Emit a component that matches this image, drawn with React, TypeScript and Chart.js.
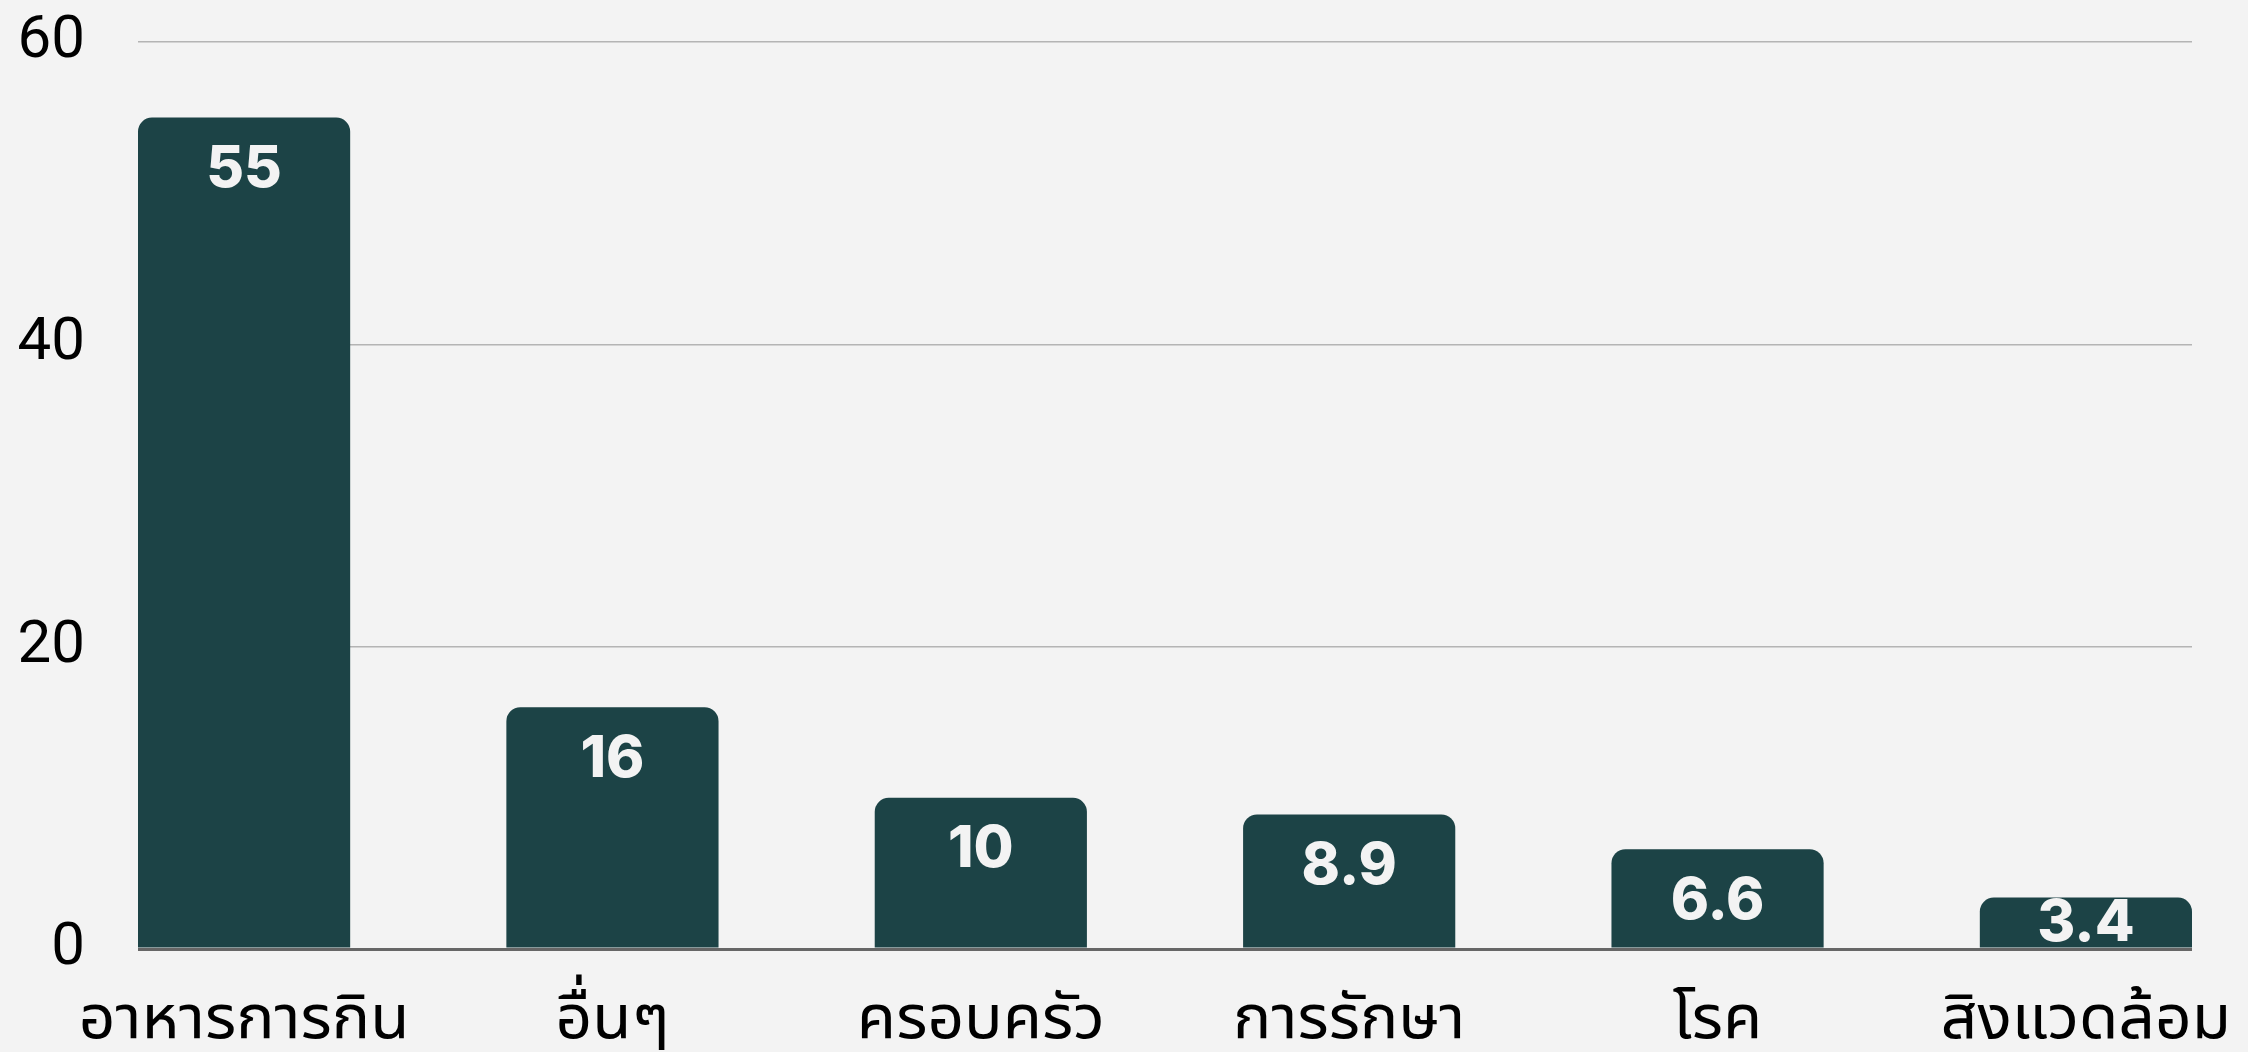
import React, { useEffect, useRef } from "react";
import { Chart, registerables } from "chart.js";

Chart.register(...registerables);

const categories: string[] = ["อาหารการกิน", "อื่นๆ", "ครอบครัว", "การรักษา", "โรค", "สิงแวดล้อม"];
const values: number[] = [55, 16, 10, 8.9, 6.6, 3.4];
const yTicks: number[] = [0, 20, 40, 60];

const BAR_COLOR = "#1c4346";
const BG = "#f3f3f3";
const THAI_FONT = "'Noto Sans Thai UI', 'Noto Sans Thai', 'Sarabun', 'Kanit', 'Prompt', 'Waree', Roboto, sans-serif";

const valueLabels = {
  id: "valueLabels",
  afterDatasetsDraw(chart: any) {
    const ctx = chart.ctx;
    const meta = chart.getDatasetMeta(0);
    ctx.save();
    ctx.fillStyle = "#f3f3f3";
    ctx.font = "800 58px Inter, Roboto, sans-serif";
    ctx.textAlign = "center";
    ctx.textBaseline = "middle";
    meta.data.forEach((bar: any, i: number) => {
      const top = Math.min(bar.y, bar.base);
      const base = Math.max(bar.y, bar.base);
      const cy = Math.min(top + 52, base - 24);
      ctx.fillText(String(values[i]), bar.x, cy);
    });
    ctx.restore();
  },
};

export default function App() {
  const ref = useRef<HTMLCanvasElement | null>(null);
  useEffect(() => {
    document.body.style.margin = "0";
    const canvas = ref.current!;
    const chart = new Chart(canvas, {
      type: "bar",
      data: {
        datasets: [
          {
            data: values.map((v, i) => ({ x: i, y: v })),
            backgroundColor: BAR_COLOR,
            borderRadius: { topLeft: 14, topRight: 14, bottomLeft: 0, bottomRight: 0 },
            borderSkipped: false,
            categoryPercentage: 1,
            barPercentage: 0.576,
          } as any,
        ],
      },
      options: {
        responsive: false,
        animation: false,
        devicePixelRatio: 1,
        layout: { padding: { top: 42, right: 56, left: 0, bottom: 0 } },
        plugins: { legend: { display: false }, tooltip: { enabled: false } },
        scales: {
          x: {
            type: "linear",
            offset: false,
            min: -0.288,
            max: 5.288,
            grid: { display: false, drawTicks: false },
            border: { display: false },
            afterFit: (s: any) => {
              s.height = 103;
              s.paddingLeft = 0;
              s.paddingRight = 0;
            },
            afterBuildTicks: (s: any) => {
              s.ticks = categories.map((_, i) => ({ value: i }));
            },
            ticks: {
              autoSkip: false,
              maxRotation: 0,
              minRotation: 0,
              padding: 32,
              color: "#000",
              font: { family: THAI_FONT, size: 64 },
              callback: (v: any) => categories[Math.round(Number(v))] ?? "",
            },
          },
          y: {
            min: 0,
            max: 60,
            afterFit: (s: any) => {
              s.width = 138;
              s.paddingTop = 0;
              s.paddingBottom = 0;
            },
            afterBuildTicks: (s: any) => {
              s.ticks = yTicks.map((v) => ({ value: v }));
            },
            grid: {
              drawTicks: false,
              color: (c: any) => (c.tick && c.tick.value === 0 ? "#666666" : "#b4b4b4"),
              lineWidth: (c: any) => (c.tick && c.tick.value === 0 ? 3 : 1.5),
            },
            border: { display: false },
            ticks: {
              padding: 53,
              color: "#000",
              font: { family: "Roboto, sans-serif", size: 60 },
            },
          },
        },
      },
      plugins: [valueLabels],
    } as any);
    return () => chart.destroy();
  }, []);
  return (
    <div style={{ position: "fixed", left: 0, top: 0, width: 2248, height: 1052, background: BG }}>
      <canvas ref={ref} width={2248} height={1052} style={{ display: "block", width: 2248, height: 1052 }} />
    </div>
  );
}
